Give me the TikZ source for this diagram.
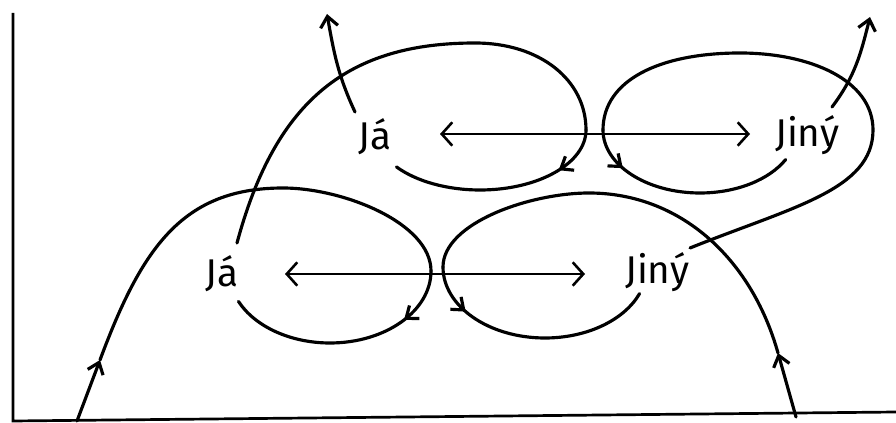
\documentclass[tikz,border=0pt]{standalone}
\usepackage{fontspec}
\setmainfont{Fira Sans}
\usetikzlibrary{arrows.meta,decorations.markings}
\begin{document}
\begin{tikzpicture}[x=0.03cm,y=0.03cm,
  curve/.style={line width=2.7pt, line cap=round},
  midarrow/.style={curve, postaction={decorate}, decoration={markings,
      mark=at position #1 with {\arrow{Straight Barb[length=9pt,width=14pt]}}}},
  mid/.style={curve,-{Straight Barb[length=9pt,width=14pt]}},
  uparr/.style={curve,-{Straight Barb[length=9pt,width=15pt]}},
  dbl/.style={line width=2.2pt,{Straight Barb[length=9pt,width=20pt]}-{Straight Barb[length=9pt,width=20pt]}},
  lbl/.style={inner sep=0pt, anchor=base west, font=\fontsize{33}{40}\selectfont},
  axis/.style={line width=2.3pt}]
\useasboundingbox (0,0) rectangle (896,423);
% axes
\coordinate (ytop) at (13,410);
\coordinate (o) at (13,2);
\coordinate (xend) at (896,11);
\draw[axis] (ytop) -- (o) -- (xend);
% labels
\node[lbl] (J1) at (205,136) {Já};
\node[lbl] (N1) at (625,139) {Jiný};
\node[lbl] (J2) at (358,273) {Já};
\node[lbl] (N2) at (775,276) {Jiný};
% double arrows
\coordinate (a1) at (285,149);
\coordinate (b1) at (585,149);
\draw[dbl] (a1) -- (b1);
\coordinate (a2) at (440,289);
\coordinate (b2) at (750,289);
\draw[dbl] (a2) -- (b2);
% lower Ja loop
\coordinate (p0) at (77,2);
\coordinate (p1) at (100,63);
\coordinate (p2) at (283,235);
\coordinate (p3) at (431,152);
\draw[mid] (p0) -- (p1);
\draw[curve] (p1) .. controls (142,176) and (183,235) .. (p2) .. controls (343,235) and (431,200) .. (p3);
\draw[midarrow=0.24] (p3) arc[start angle=0, end angle=-155, x radius=101, y radius=72] coordinate (p6);
% upper Ja loop
\coordinate (q0) at (237,180);
\coordinate (q1) at (475,380);
\coordinate (q2) at (586,293);
\draw[curve] (q0) .. controls (276,325) and (350,380) .. (q1) .. controls (540,380) and (586,343) .. (q2);
\draw[midarrow=0.23] (q2) arc[start angle=0, end angle=-142, x radius=106, y radius=60] coordinate (q5);
% upper Ja up arrow
\coordinate (r0) at (355,311);
\coordinate (r1) at (327,409);
\draw[uparr] (r0) to[out=115,in=-80] (r1);
% upper Jiny loop
\coordinate (s0) at (690,175);
\coordinate (s1) at (873,293);
\coordinate (s2) at (740,370);
\coordinate (s3) at (603,293);
\draw[curve] (s0) .. controls (792,216) and (873,233) .. (s1) .. controls (873,343) and (810,370) .. (s2) .. controls (660,370) and (603,343) .. (s3);
\draw[midarrow=0.2] (s3) arc[start angle=180, end angle=332, x radius=97, y radius=63] coordinate (s6);
% upper Jiny up arrow
\coordinate (t0) at (832,316);
\coordinate (t1) at (870,406);
\draw[uparr] (t0) to[out=53,in=-104] (t1);
% lower Jiny loop
\coordinate (u0) at (796,6);
\coordinate (u1) at (778,70);
\coordinate (u2) at (589,230);
\coordinate (u3) at (443,156);
\draw[mid] (u0) -- (u1);
\draw[curve] (u1) .. controls (751,166) and (679,230) .. (u2) .. controls (530,230) and (443,200) .. (u3);
\draw[midarrow=0.21] (u3) arc[start angle=180, end angle=338, x radius=102, y radius=71] coordinate (u6);
\end{tikzpicture}
\end{document}
